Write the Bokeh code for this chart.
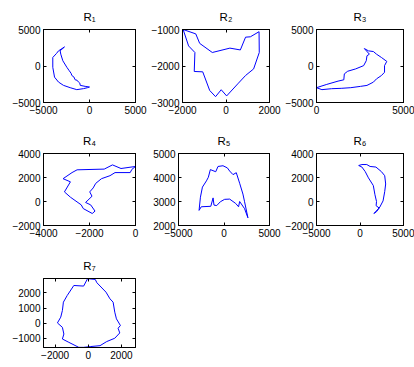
from bokeh.plotting import figure
from bokeh.models import Range1d, LinearAxis, FixedTicker, CustomJSTickFormatter, BasicTickFormatter
from bokeh.layouts import row, column
from bokeh.embed import file_html
from bokeh.resources import INLINE

titles = ["R\u2081", "R\u2082", "R\u2083", "R\u2084", "R\u2085", "R\u2086", "R\u2087"]

r1_x = [-2720, -3000, -3190, -3120, -2900, -2460, -2200, -2000, -1920, -1700, -1560, -1350, -1200, -1050, -1010, -470, 0, -220, -650, -1380, -2100, -2830, -3370, -3800, -3990, -3990, -3600, -3370, -2720]
r1_y = [2610, 2300, 2070, 1620, 720, -180, -650, -1000, -1300, -1500, -1890, -1950, -2200, -2350, -2650, -2790, -2880, -2970, -3100, -3240, -2970, -2650, -2200, -1530, -180, 1170, 1700, 2070, 2610]

r2_x = [-1970, -1720, -1430, -1460, -1070, -750, -480, -220, 30, 540, 900, 1270, 1530, 1520, 1120, 900, 660, 180, -630, -1210, -1390, -1970]
r2_y = [-1000, -1450, -1630, -2150, -2160, -2670, -2840, -2650, -2820, -2490, -2260, -2080, -1630, -1060, -1200, -1210, -1560, -1510, -1630, -1380, -1120, -1000]

r3_x = [2750, 2990, 3270, 3450, 3730, 4040, 3910, 3910, 3730, 3450, 3270, 2900, 2530, 1970, 1420, 870, 310, 0, 590, 1240, 1570, 1600, 1790, 2250, 2710, 2860, 2900, 3040, 2750]
r3_y = [2390, 2070, 1980, 1620, 1170, 630, 50, -860, -1310, -1760, -2210, -2660, -2790, -2970, -3060, -3110, -3240, -2970, -2520, -2070, -1890, -1080, -720, -400, 50, 720, 1400, 1620, 2390]

r4_x = [0, -630, -1000, -1360, -2540, -2760, -3150, -2830, -3090, -2830, -2360, -2270, -1880, -1760, -1950, -2170, -1890, -1990, -1840, -1730, -1480, -1110, -890, -230, -160, 0]
r4_y = [2920, 2750, 3050, 2700, 2640, 2410, 1900, 1640, 800, 360, -280, -590, -1000, -800, -280, -80, 440, 800, 1130, 1510, 1900, 2150, 2410, 2410, 2670, 2920]

r5_x = [-2740, -2590, -2370, -1930, -1720, -1500, -910, -660, -110, 370, 620, 990, 1350, 1720, 2080, 2260, 2630, 2260, 1720, 1600, 1280, 620, 70, -400, -800, -1100, -1200, -1450, -2500, -2740]
r5_y = [2630, 3180, 3600, 3860, 4010, 4330, 4240, 4460, 4490, 4400, 4270, 4120, 4200, 3760, 3310, 2990, 2320, 2700, 3000, 2780, 2920, 3100, 3090, 2990, 2830, 2850, 3150, 2800, 2780, 2630]

r6_x = [-150, 220, 780, 1160, 1830, 2460, 2840, 2950, 2840, 2650, 2280, 1900, 1600, 2200, 1850, 1900, 1720, 1530, 970, 600, 220, -150]
r6_y = [3000, 3080, 3080, 2920, 2870, 2490, 2150, 1460, 820, 50, -460, -850, -1000, -540, -350, 0, 560, 1330, 1970, 2490, 2870, 3000]

r7_x = [-40, 420, 520, 1070, 1310, 1500, 1600, 1700, 1940, 1800, 1900, 1600, 1110, 710, 120, -280, -570, -1170, -1560, -1470, -1560, -1860, -1660, -1560, -1500, -1270, -870, -280, -40]
r7_y = [2940, 2890, 2670, 2050, 1610, 1390, 730, 290, -150, -330, -640, -990, -1210, -1480, -1540, -1590, -1590, -1260, -1040, -710, -270, 20, 400, 840, 1390, 1830, 2490, 2450, 2940]

xlims = [(-5000, 5000), (-2000, 2000), (0, 5000), (-4000, 0), (-5000, 5000), (-5000, 5000), (-2700, 2850)]
ylims = [(-5000, 5000), (-3000, -1000), (-5000, 5000), (-2000, 4000), (2000, 5000), (-2000, 4000), (-1600, 2950)]
xticks = [[-5000, 0, 5000], [-2000, 0, 2000], [0, 5000], [-4000, -2000, 0], [-5000, 0, 5000], [-5000, 0, 5000], [-2000, 0, 2000]]
yticks = [[-5000, 0, 5000], [-3000, -2000, -1000], [-5000, 0, 5000], [-2000, 0, 2000, 4000], [2000, 3000, 4000, 5000], [-2000, 0, 2000, 4000], [-1000, 0, 1000, 2000]]

series = [(r1_x, r1_y), (r2_x, r2_y), (r3_x, r3_y), (r4_x, r4_y), (r5_x, r5_y), (r6_x, r6_y), (r7_x, r7_y)]

# layout geometry: (width, border_left, border_right) per column, (height, top, bottom) per row
cols = [(148, 43, 13), (134, 30, 13), (132, 30, 11)]
rows_g = [(126, 29, 24), (125, 25, 26), (112, 27, 16)]

FONT = "Liberation Sans"


def style_axis(ax, labels):
    ax.major_tick_in = 3
    ax.major_tick_out = 0
    ax.minor_tick_line_color = None
    ax.axis_line_color = "black"
    ax.axis_line_width = 1
    ax.major_tick_line_color = "black"
    if labels:
        ax.major_label_text_font = FONT
        ax.major_label_text_font_size = "10px"
        ax.major_label_text_color = "black"
        ax.major_label_standoff = 3
        ax.formatter = BasicTickFormatter(use_scientific=False)
    else:
        ax.formatter = CustomJSTickFormatter(code="return ''")
        ax.major_label_text_font_size = "1px"
        ax.major_label_standoff = 0


def make(i):
    r, c = divmod(i, 3)
    w, bl, br = cols[c]
    h, bt, bb = rows_g[r]
    p = figure(width=w, height=h, output_backend="svg", toolbar_location=None,
               x_range=Range1d(*xlims[i]), y_range=Range1d(*ylims[i]),
               x_axis_type=None, y_axis_type=None,
               min_border_left=bl, min_border_right=br,
               min_border_top=bt, min_border_bottom=bb)
    p.outline_line_color = "black"
    p.background_fill_color = "white"
    p.border_fill_color = "white"
    xt = FixedTicker(ticks=xticks[i], minor_ticks=[])
    yt = FixedTicker(ticks=yticks[i], minor_ticks=[])
    for loc, tk, lab in (("below", xt, True), ("left", yt, True), ("above", xt, False), ("right", yt, False)):
        ax = LinearAxis(ticker=tk)
        style_axis(ax, lab)
        p.add_layout(ax, loc)
    p.title.text = titles[i]
    p.title.align = "center"
    p.title.text_font = FONT
    p.title.text_font_size = "11.5px"
    p.title.text_font_style = "normal"
    p.title.text_color = "black"
    p.title.standoff = 13
    xs, ys = series[i]
    p.line(xs, ys, line_color="#0000ff", line_width=1)
    return p


figs = [make(i) for i in range(7)]
layout = column(row(*figs[0:3]), row(*figs[3:6]), row(figs[6]))

open("out.html", "w").write(file_html(layout, INLINE))
